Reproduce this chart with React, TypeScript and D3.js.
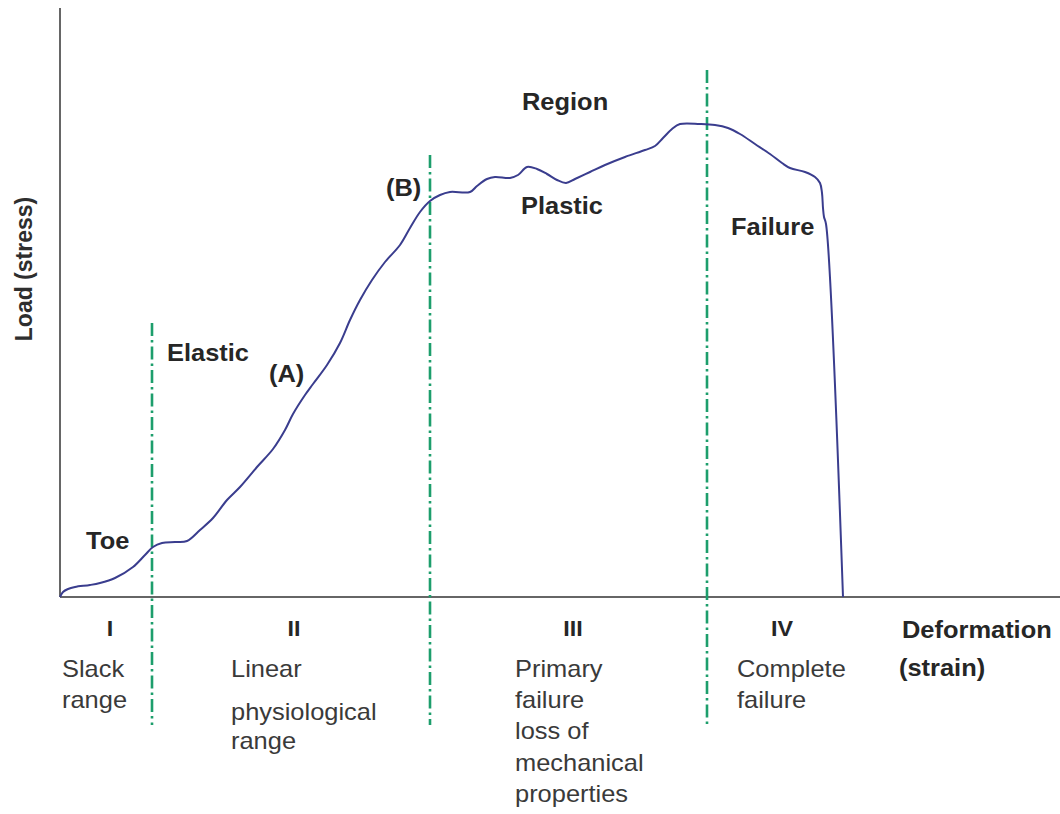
import React from "react";
import * as d3 from "d3";

// Stress-strain curve (strain %, load %)
const strain = [0, 0.3, 0.8, 1.5, 3.0, 4.0, 5.5, 7.3, 8.5, 9.3, 10.2, 11.5, 12.7, 14, 15.3, 16.7, 18, 19.7, 21.3, 22.5, 23.3, 24.5, 25.3, 26.7, 28, 29, 30, 31.2, 32.5, 34, 35, 36, 37, 38, 39, 41, 41.7, 42.7, 43.5, 45, 45.8, 46.7, 47.7, 48.7, 49.7, 50.6, 51.5, 53, 54.5, 56.5, 58.5, 59.5, 60.3, 61.2, 62, 64, 65.5, 66.8, 68, 69.5, 71, 72.2, 73, 74.5, 75.5, 76, 76.2, 76.3, 76.4, 76.6, 78.3];
const load = [0, 1.0, 1.6, 2.0, 2.4, 2.8, 3.8, 6.0, 8.4, 10, 10.8, 11.0, 11.2, 13.4, 15.8, 19.4, 22, 26, 29.6, 33.4, 36.6, 40.4, 42.6, 46.4, 50.8, 55.4, 59.4, 63.4, 67, 70.4, 73.8, 77, 79.2, 80.4, 81, 81, 82.2, 83.6, 84, 83.8, 84.4, 86, 85.6, 84.6, 83.4, 82.8, 83.6, 85, 86.4, 88, 89.4, 90.2, 91.8, 93.6, 94.6, 94.6, 94.4, 93.8, 92.6, 90.6, 88.6, 86.8, 85.8, 85, 84, 82.8, 80.8, 77.8, 76, 74.6, 0];

// Region boundaries (strain) and the top of each dash-dot marker (load)
const boundaryX = [9.2, 37, 64.7];
const boundaryTop = [54.8, 88.4, 105.4];
const boundaryBottom = -25.6;

const numerals = ["I", "II", "III", "IV"];
const numeralX = [5.0, 23.4, 51.3, 72.2];
const regionDesc = [
  ["Slack", "range"],
  ["Linear", "physiological", "range"],
  ["Primary", "failure", "loss of", "mechanical", "properties"],
  ["Complete", "failure"],
];
const descX = [0.2, 17.1, 45.5, 67.7];

const W = 1060;
const H = 814;

export default function App() {
  const x = d3.scaleLinear().domain([0, 100]).range([60, 1060]);
  const y = d3.scaleLinear().domain([0, 100]).range([597, 97]);

  const pts = strain.map((s, i) => [s, load[i]] as [number, number]);
  const line = d3
    .line<[number, number]>()
    .x((d) => x(d[0]))
    .y((d) => y(d[1]))
    .curve(d3.curveCatmullRom.alpha(0.5));

  const font = "'Liberation Sans', Arial, Helvetica, sans-serif";
  const txt = "#2e2e2e";
  const sx = 1.06;

  const T = (props: {
    x: number;
    y: number;
    s: string;
    bold?: boolean;
    size?: number;
    anchor?: string;
  }) => (
    <text
      transform={`translate(${props.x},${props.y}) scale(${sx},1)`}
      fontFamily={font}
      fontSize={props.size ?? 24}
      fontWeight={props.bold ? "bold" : "normal"}
      fill={props.bold ? "#262626" : "#3a3a3a"}
      textAnchor={props.anchor ?? "start"}
    >
      {props.s}
    </text>
  );

  const lineGap = 31.2;

  return (
    <svg
      width={W}
      height={H}
      style={{ position: "absolute", left: 0, top: 0, background: "#fff" }}
    >
      <rect x={0} y={0} width={W} height={H} fill="#fff" />
      {/* axes */}
      <line x1={x(0)} x2={x(0)} y1={8} y2={y(0)} stroke="#666" strokeWidth={2} />
      <line x1={x(0)} x2={x(100)} y1={y(0)} y2={y(0)} stroke="#666" strokeWidth={2} />

      {/* boundaries */}
      {boundaryX.map((b, i) => (
        <line
          key={i}
          x1={x(b)}
          x2={x(b)}
          y1={y(boundaryTop[i])}
          y2={y(boundaryBottom)}
          stroke="#1d9e6c"
          strokeWidth={2.6}
          strokeDasharray="13,4,2.5,4"
        />
      ))}

      {/* curve */}
      <path d={line(pts) ?? ""} fill="none" stroke="#3a3d8e" strokeWidth={2} strokeLinejoin="round" />

      {/* axis titles */}
      <text
        transform={`translate(32,269) rotate(-90)`}
        fontFamily={font}
        fontSize={23}
        fontWeight="bold"
        fill={txt}
        textAnchor="middle"
      >
        Load (stress)
      </text>
      <T x={902} y={638} s="Deformation" bold />
      <T x={899} y={676} s="(strain)" bold />

      {/* numerals */}
      {numerals.map((n, i) => (
        <T key={n} x={x(numeralX[i])} y={636} s={n} bold size={22} anchor="middle" />
      ))}
      {regionDesc.map((lines, i) =>
        lines.map((l, j) => {
          let yy = 677 + j * lineGap;
          if (i === 1 && j > 0) yy = 720 + (j - 1) * 28.5;
          return <T key={`${i}-${j}`} x={x(descX[i])} y={yy} s={l} />;
        })
      )}

      {/* annotations */}
      <T x={86} y={549} s="Toe" bold />
      <T x={167} y={361} s="Elastic" bold />
      <T x={269} y={382} s="(A)" bold />
      <T x={386} y={196} s="(B)" bold />
      <T x={522} y={110} s="Region" bold />
      <T x={521} y={214} s="Plastic" bold />
      <T x={731} y={235} s="Failure" bold />
    </svg>
  );
}
